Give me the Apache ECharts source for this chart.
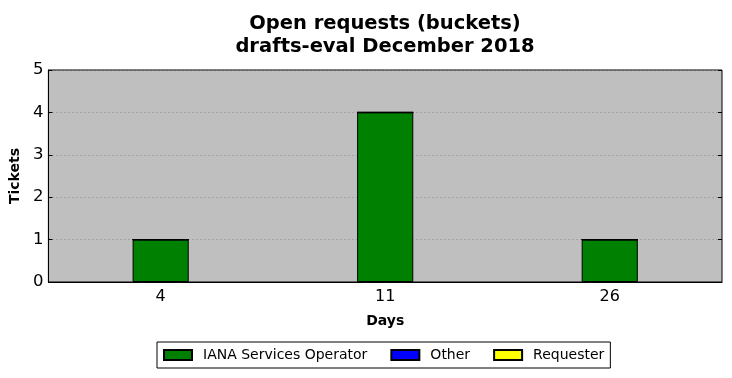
<!DOCTYPE html>
<html>
<head>
<meta charset="utf-8">
<script src="https://cdn.jsdelivr.net/npm/echarts@6/dist/echarts.min.js"></script>
<style>
  html, body { margin: 0; padding: 0; background: #fff; }
  #chart { width: 732px; height: 378px; }
</style>
</head>
<body>
<div id="chart"></div>
<script>
var days = ['4', '11', '26'];
var ianaOperator = [1, 4, 1];
var other = [0, 0, 0];
var requester = [0, 0, 0];
var yTicks = [0, 1, 2, 3, 4, 5];

(function () {
  var FONT = 'DejaVu Sans';
  var chart = echarts.init(document.getElementById('chart'));

  function barSeries(name, data, color) {
    return {
      name: name,
      type: 'bar',
      stack: 'all',
      barWidth: '25%',
      data: data,
      itemStyle: { color: color, borderColor: '#000', borderWidth: 1 },
      emphasis: { disabled: true },
    };
  }

  var option = {
    animation: false,
    textStyle: { fontFamily: FONT },
    // title and legend sit over the middle of the plot, not of the canvas
    title: {
      text: 'Open requests (buckets)\ndrafts-eval December 2018',
      left: 380,
      textAlign: 'center',
      top: 7,
      textStyle: { fontFamily: FONT, fontSize: 19.5, fontWeight: 'bold', color: '#000', lineHeight: 23 },
    },
    grid: {
      left: 46,
      right: 10,
      top: 70,
      bottom: 96,
      show: true,
      backgroundColor: '#bfbfbf',
      borderColor: '#000',
      borderWidth: 1,
      containLabel: false,
    },
    legend: {
      bottom: 10,
      left: 157,
      itemWidth: 28,
      itemHeight: 10,
      itemGap: 23,
      padding: [6, 6, 6, 6],
      borderColor: '#000',
      borderWidth: 1,
      borderRadius: 0,
      icon: 'rect',
      textStyle: { fontFamily: FONT, fontSize: 14, color: '#000', padding: [0, 0, 0, 6] },
      data: ['IANA Services Operator', 'Other', 'Requester'],
    },
    xAxis: [
      {
        type: 'category',
        data: days,
        name: 'Days',
        nameLocation: 'middle',
        nameGap: 32,
        nameTextStyle: { fontFamily: FONT, fontSize: 14, fontWeight: 'bold', color: '#000' },
        axisLine: { lineStyle: { color: '#000' } },
        axisTick: { alignWithLabel: true, inside: true, length: 4, lineStyle: { color: '#000' } },
        axisLabel: { fontFamily: FONT, fontSize: 16, color: '#000', margin: 7 },
      },
      {
        type: 'category',
        data: days,
        position: 'top',
        axisLine: { show: false },
        axisTick: { alignWithLabel: true, inside: true, length: 4, lineStyle: { color: '#000' } },
        axisLabel: { show: false },
      },
    ],
    yAxis: [
      {
        type: 'value',
        min: yTicks[0],
        max: yTicks[yTicks.length - 1],
        interval: 1,
        name: 'Tickets',
        nameLocation: 'middle',
        nameGap: 24,
        nameTextStyle: { fontFamily: FONT, fontSize: 14, fontWeight: 'bold', color: '#000' },
        axisLine: { show: true, lineStyle: { color: '#000' } },
        axisTick: { show: true, inside: true, length: 4, lineStyle: { color: '#000' } },
        axisLabel: { fontFamily: FONT, fontSize: 16.5, color: '#000', margin: 5 },
        splitLine: { lineStyle: { color: '#8c8c8c', type: [1, 3], width: 1 } },
      },
      {
        type: 'value',
        min: yTicks[0],
        max: yTicks[yTicks.length - 1],
        interval: 1,
        position: 'right',
        axisLine: { show: false },
        axisTick: { show: true, inside: true, length: 4, lineStyle: { color: '#000' } },
        axisLabel: { show: false },
        splitLine: { show: false },
      },
    ],
    series: [
      barSeries('IANA Services Operator', ianaOperator, '#008000'),
      barSeries('Other', other, '#0000ff'),
      barSeries('Requester', requester, '#ffff00'),
    ],
  };

  chart.setOption(option);
})();
</script>
</body>
</html>
